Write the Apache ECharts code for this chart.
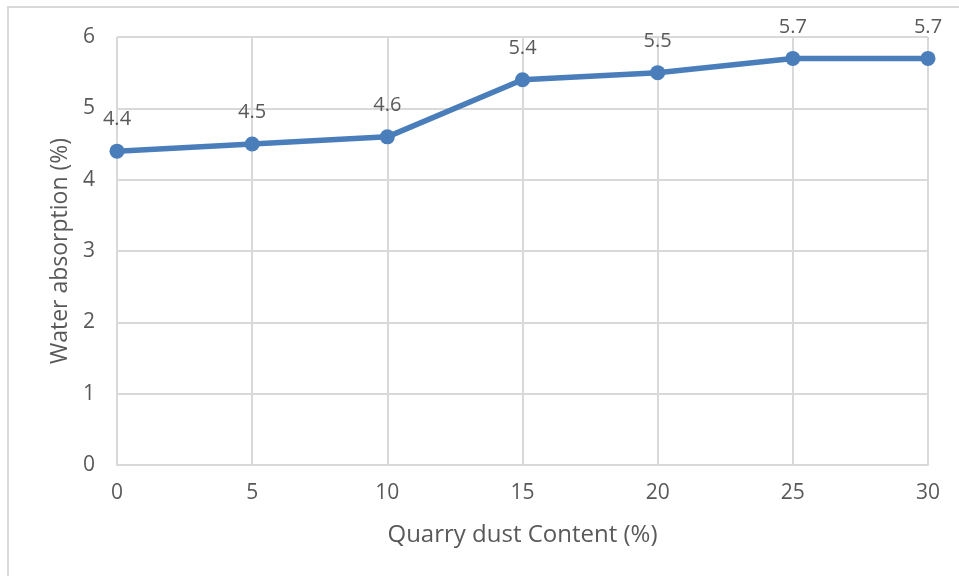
<!DOCTYPE html>
<html>
<head>
<meta charset="utf-8">
<script src="https://cdn.jsdelivr.net/npm/echarts@6/dist/echarts.min.js"></script>
<style>
  html, body { margin: 0; padding: 0; background: #fff; }
  #chart { width: 959px; height: 576px; }
</style>
</head>
<body>
<div id="chart"></div>
<script>
// quarry dust content (%) and water absorption (%)
var dustContent = [0, 5, 10, 15, 20, 25, 30];
var absorption = [4.4, 4.5, 4.6, 5.4, 5.5, 5.7, 5.7];

var points = [];
for (var i = 0; i < dustContent.length; i++) {
    points.push([dustContent[i], absorption[i]]);
}

var chart = echarts.init(document.getElementById('chart'));
var font = '"Open Sans", "Noto Sans", sans-serif';
var option = {
    backgroundColor: '#fff',
    textStyle: { fontFamily: font },
    // outer chart frame, partly cut off
    graphic: [{
        type: 'rect',
        shape: { x: 8, y: 7, width: 1000, height: 600 },
        style: { fill: 'none', stroke: '#d9d9d9', lineWidth: 2 },
        silent: true
    }],
    grid: {
        left: 117,
        right: 31,
        top: 37,
        bottom: 111
    },
    xAxis: {
        type: 'value',
        min: 0,
        max: 30,
        interval: 5,
        name: 'Quarry dust Content (%)',
        nameLocation: 'middle',
        nameGap: 58,
        nameTextStyle: { color: '#595959', fontSize: 24, fontFamily: font },
        axisLine: { show: true, lineStyle: { color: '#d9d9d9', width: 2 } },
        axisTick: { show: false },
        axisLabel: { color: '#595959', fontSize: 21, margin: 18, fontFamily: font },
        splitLine: { show: true, lineStyle: { color: '#d9d9d9', width: 2 } }
    },
    yAxis: {
        type: 'value',
        min: 0,
        max: 6,
        interval: 1,
        name: 'Water absorption (%)',
        nameLocation: 'middle',
        nameGap: 42,
        nameRotate: 90,
        nameTextStyle: { color: '#595959', fontSize: 23, fontFamily: font },
        axisLine: { show: false },
        axisTick: { show: false },
        axisLabel: { color: '#595959', fontSize: 21, margin: 22, fontFamily: font },
        splitLine: { show: true, lineStyle: { color: '#d9d9d9', width: 2 } }
    },
    series: [{
        type: 'line',
        data: points,
        symbol: 'circle',
        symbolSize: 15,
        lineStyle: { color: '#4a7ebb', width: 5.5 },
        itemStyle: { color: '#4a7ebb' },
        label: {
            show: true,
            position: 'top',
            distance: 14,
            color: '#595959',
            fontSize: 20,
            fontFamily: font
        },
        animation: false
    }]
};
chart.setOption(option);
</script>
</body>
</html>
